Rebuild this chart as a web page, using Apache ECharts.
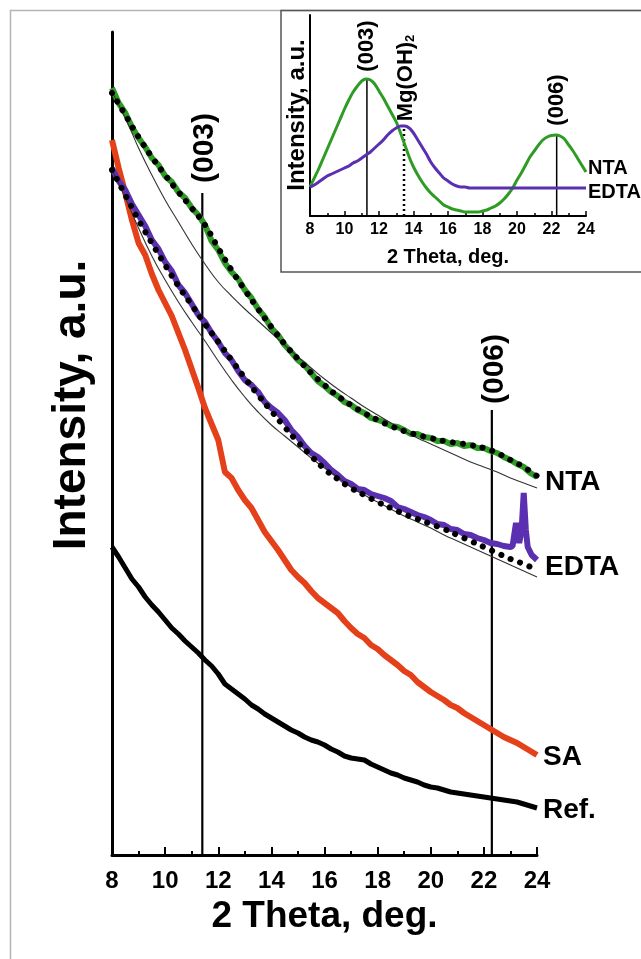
<!DOCTYPE html>
<html><head><meta charset="utf-8">
<script src="https://cdn.jsdelivr.net/npm/echarts@6/dist/echarts.min.js"></script>
<style>html,body{margin:0;padding:0;background:#fff}#c{width:641px;height:959px}</style>
</head><body><div id="c"></div>
<script>
// 2 Theta grid (deg.)
const thetaQ = [8,8.25,8.5,8.75,9,9.25,9.5,9.75,10,10.25,10.5,10.75,11,11.25,11.5,11.75,12,12.25,12.5,12.75,13,13.25,13.5,13.75,14,14.25,14.5,14.75,15,15.25,15.5,15.75,16,16.25,16.5,16.75,17,17.25,17.5,17.75,18,18.25,18.5,18.75,19,19.25,19.5,19.75,20,20.25,20.5,20.75,21,21.25,21.5,21.75,22,22.25,22.5,22.75,23,23.25,23.5,23.75,24];
const thetaH = [8,8.5,9,9.5,10,10.5,11,11.5,12,12.5,13,13.5,14,14.5,15,15.5,16,16.5,17,17.5,18,18.5,19,19.5,20,20.5,21,21.5,22,22.5,23,23.5,24];

// Main panel: measured patterns (a.u.)
const ntaMeasured = [767,752,742,728,717,708,697,690,679,673,663,657,647,640,630,614,605,592,583,576,565,557,546,538,527,520,510,503,495,490,482,474,469,463,459,453,450,445,442,437,435,433,429,428,425,421,421,418,417,414,414,411,412,409,410,407,407,404,402,398,395,391,388,382,378];
const edtaMeasured = [687,674,665,651,640,629,615,606,593,584,570,562,551,540,533,522,513,502,495,484,475,470,463,453,447,442,435,425,418,409,402,398,392,385,380,374,371,366,365,361,359,357,354,348,346,343,340,338,335,331,330,326,325,321,320,317,315,312,311,309,308];
const edtaTailTheta = [23.08,23.21,23.33,23.42,23.5,23.58,23.65,23.8,24];
const edtaTailValues = [309,332,312,325,362,325,308,300,295];
const saMeasured = [715,687,662,635,612,600,581,565,552,539,522,505,486,467,447,431,415,383,377,365,355,347,335,323,314,305,295,285,278,272,264,257,252,247,242,234,227,221,217,210,206,200,195,190,184,180,173,168,163,159,155,150,147,142,138,134,130,126,122,118,115,112,108,104,100];
const refMeasured = [308,298,287,276,268,258,250,243,235,227,221,214,208,202,195,189,181,171,166,161,156,150,146,141,137,133,129,125,122,118,115,113,110,106,103,99,97,96,95,91,88,85,82,80,77,75,73,70,68,67,65,63,62,61,60,59,58,57,56,55,54,53,51,49,47];
// fits (dotted) and baselines (thin)
const ntaFit = [762,740,718,698,680,663,647,630,607,585,565,546,528,511,496,482,470,459,450,442,435,429,424,420,417,414,412,410,407,402,395,388,379];
const ntaBaseline = [763,737,707,680,655,633,611,591,573,559,546,534,522,510,498,487,476,466,457,448,440,432,424,417,411,405,399,393,388,383,377,372,367];
const edtaFit = [685,660,635,612,590,569,550,531,513,495,477,460,444,428,413,399,386,376,367,360,353,347,341,336,331,326,320,314,308,302,296,291,285];
const edtaBaseline = [685,657,627,599,575,553,533,514,494,475,458,443,430,419,408,397,387,378,368,360,353,346,339,333,327,320,314,308,302,296,290,284,278];
// reflection positions (deg.) and marker line heights
const mainPeaks = [11.4, 22.3];
const mainPeakTops = [662, 445];

// Inset panel
const insetTheta = thetaQ;
const insetNTA = [29,38,47,57,67,77,87,97,107,116,124,130,135,137,136,132,125,118,110,102,94,83,71,59,49,41,34,28,23,19,15,11,9,7,6,5,4,4,4,4,5,6,8,10,13,17,22,28,36,43,51,59,65,71,76,79,80.5,81,80,77,71,65,58,51,44];
const insetEDTA = [29,31,34,37,40,42,44,46,48,50,53,55,58,61,64,68,72,76,81,85,88,90,90,88,83,76,69,62,54,48,43,38,35,32,30,29,29,28,28,28,28,28,28,28,28,28,28,28,28,28,28,28,28,28,28,28,28,28,28,28,28,28,28,28,28];
const insetPeaks = [11.3, 22.3];
const insetPeakTops = [137, 81];
const mgohPeak = 13.45;
const mgohTop = 90;

const xTicksMain = ['8','10','12','14','16','18','20','22','24'];

const FONT = 'Liberation Sans, Arial, Helvetica, sans-serif';
const pair = (xs, ys) => ys.map((v, i) => [xs[i], v]);
const edtaData = pair(thetaQ, edtaMeasured).concat(pair(edtaTailTheta, edtaTailValues));

const chart = echarts.init(document.getElementById('c'), null, {renderer: 'canvas'});

function vline(xi, yi, x, top, dotted) {
  return {type: 'line', xAxisIndex: xi, yAxisIndex: yi, data: [[x, 0], [x, top]], symbol: 'none', silent: true,
    lineStyle: dotted ? {color: '#000', width: 2.5, type: [2, 3]} : {color: '#000', width: xi === 0 ? 2.2 : 1.5}, z: 1};
}

function txt(x, y, text, size, opts) {
  opts = opts || {};
  return {type: 'text', x: x, y: y, rotation: opts.rot ? Math.PI / 2 : 0, z: 10,
    style: Object.assign({text: text, fill: '#000', font: 'bold ' + size + 'px ' + FONT,
      align: opts.align || 'center', verticalAlign: 'middle'}, opts.style || {})};
}

const dotted = {color: '#000', width: 6, type: [0.1, 10], cap: 'round'};

const option = {
  animation: false,
  backgroundColor: '#fff',
  grid: [
    {left: 112, top: 32, width: 425, height: 823},
    {left: 310, top: 15, width: 276, height: 201}
  ],
  xAxis: [
    {type: 'value', gridIndex: 0, min: 8, max: 24, interval: 2,
      axisLine: {lineStyle: {color: '#000', width: 3}},
      axisTick: {inside: true, length: 8, lineStyle: {color: '#000', width: 2}},
      minorTick: {show: true, splitNumber: 2, length: 4, lineStyle: {color: '#000', width: 2}},
      splitLine: {show: false},
      axisLabel: {margin: 14, fontSize: 24, fontWeight: 'bold', color: '#000', fontFamily: FONT,
        formatter: v => xTicksMain[Math.round((v - 8) / 2)]},
      name: '2 Theta, deg.', nameLocation: 'middle', nameGap: 42,
      nameTextStyle: {fontSize: 37, fontWeight: 'bold', color: '#000', fontFamily: FONT}},
    {type: 'value', gridIndex: 1, min: 8, max: 24, interval: 2,
      axisLine: {lineStyle: {color: '#000', width: 2}},
      axisTick: {inside: true, length: 5, lineStyle: {color: '#000', width: 1.5}},
      minorTick: {show: true, splitNumber: 2, length: 3, lineStyle: {color: '#000', width: 1.5}},
      splitLine: {show: false},
      axisLabel: {margin: 6, fontSize: 16, fontWeight: 'bold', color: '#000', fontFamily: FONT},
      name: '2 Theta, deg.', nameLocation: 'middle', nameGap: 31,
      nameTextStyle: {fontSize: 20, fontWeight: 'bold', color: '#000', fontFamily: FONT}}
  ],
  yAxis: [
    {type: 'value', gridIndex: 0, min: 0, max: 823,
      axisLine: {show: true, lineStyle: {color: '#000', width: 3}},
      axisTick: {show: false}, axisLabel: {show: false}, splitLine: {show: false}},
    {type: 'value', gridIndex: 1, min: 0, max: 201,
      axisLine: {show: true, lineStyle: {color: '#000', width: 2}},
      axisTick: {show: false}, axisLabel: {show: false}, splitLine: {show: false}}
  ],
  series: [
    {name: 'Ref.', type: 'line', data: pair(thetaQ, refMeasured), symbol: 'none', lineStyle: {color: '#000', width: 5}, z: 2},
    {name: 'SA', type: 'line', data: pair(thetaQ, saMeasured), symbol: 'none', lineStyle: {color: '#e4401a', width: 6}, z: 2},
    {name: 'EDTA', type: 'line', data: edtaData, symbol: 'none', lineStyle: {color: '#5a2fb0', width: 6}, z: 2},
    {name: 'NTA', type: 'line', data: pair(thetaQ, ntaMeasured), symbol: 'none', lineStyle: {color: '#2e9c24', width: 6}, z: 2},
    {name: 'EDTA baseline', type: 'line', data: pair(thetaH, edtaBaseline), smooth: true, symbol: 'none', lineStyle: {color: '#333', width: 1.1}, z: 3},
    {name: 'NTA baseline', type: 'line', data: pair(thetaH, ntaBaseline), smooth: true, symbol: 'none', lineStyle: {color: '#333', width: 1.1}, z: 3},
    {name: 'EDTA fit', type: 'line', data: pair(thetaH, edtaFit), smooth: true, symbol: 'none', lineStyle: dotted, z: 4},
    {name: 'NTA fit', type: 'line', data: pair(thetaH, ntaFit), smooth: true, symbol: 'none', lineStyle: dotted, z: 4},
    vline(0, 0, mainPeaks[0], mainPeakTops[0]),
    vline(0, 0, mainPeaks[1], mainPeakTops[1]),
    // inset
    {name: 'NTA inset', type: 'line', xAxisIndex: 1, yAxisIndex: 1, data: pair(insetTheta, insetNTA), smooth: 0.3, symbol: 'none', lineStyle: {color: '#2e9c24', width: 3}, z: 2},
    {name: 'EDTA inset', type: 'line', xAxisIndex: 1, yAxisIndex: 1, data: pair(insetTheta, insetEDTA), smooth: 0.3, symbol: 'none', lineStyle: {color: '#5a2fb0', width: 3}, z: 2},
    vline(1, 1, insetPeaks[0], insetPeakTops[0]),
    vline(1, 1, insetPeaks[1], insetPeakTops[1]),
    vline(1, 1, mgohPeak, mgohTop, true)
  ],
  graphic: [
    {type: 'rect', shape: {x: 10.5, y: 10.5, width: 700, height: 1000}, style: {fill: 'none', stroke: '#b4b4b4', lineWidth: 1.5}, z: 0, silent: true},
    {type: 'rect', shape: {x: 281, y: 10.5, width: 400, height: 261.5}, style: {fill: 'none', stroke: '#555', lineWidth: 1.5}, z: 0, silent: true},
    txt(72, 405, 'Intensity, a.u.', 46, {rot: true}),
    txt(205, 148, '(003)', 30, {rot: true}),
    txt(495, 369, '(006)', 30, {rot: true}),
    txt(545, 482, 'NTA', 28, {align: 'left'}),
    txt(545, 567, 'EDTA', 28, {align: 'left'}),
    txt(543, 757, 'SA', 28, {align: 'left'}),
    txt(543, 810, 'Ref.', 28, {align: 'left'}),
    txt(297, 115, 'Intensity, a.u.', 24, {rot: true}),
    txt(367, 46, '(003)', 22, {rot: true}),
    {type: 'text', x: 405, y: 78, rotation: Math.PI / 2, z: 10,
      style: {text: '{m|Mg(OH)}{s|2}', align: 'center', verticalAlign: 'middle',
        rich: {m: {font: 'bold 22px ' + FONT, fill: '#000', verticalAlign: 'bottom', lineHeight: 24},
               s: {font: 'bold 13px ' + FONT, fill: '#000', verticalAlign: 'bottom', lineHeight: 14}}}},
    txt(557, 100, '(006)', 22, {rot: true}),
    txt(588, 168, 'NTA', 20, {align: 'left'}),
    txt(588, 192, 'EDTA', 20, {align: 'left'})
  ]
};
chart.setOption(option);
</script>
</body></html>
